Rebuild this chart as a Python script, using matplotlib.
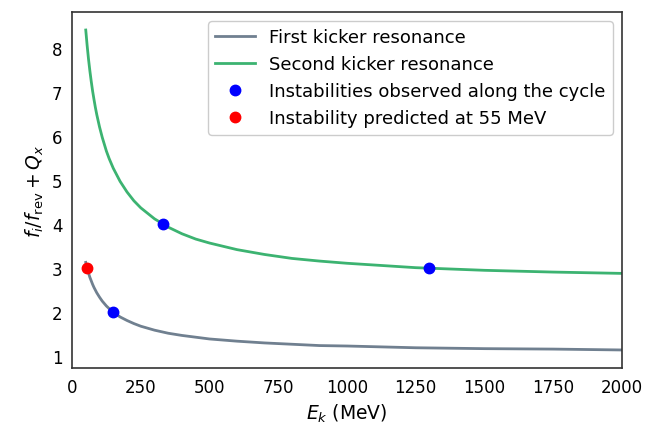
import matplotlib.pyplot as plt

# kinetic energy (MeV) sampled along the curves
ek = [50, 55, 60, 65, 70, 75, 80, 85, 90, 100, 110, 125, 135, 150, 175, 200,
      225, 250, 300, 350, 400, 450, 500, 600, 700, 800, 900, 1000, 1250, 1500,
      1750, 2000]

# first / second kicker resonance
first_res = [3.13, 3.00, 2.89, 2.79, 2.71, 2.63, 2.56, 2.50, 2.44, 2.34, 2.25,
             2.14, 2.08, 2.00, 1.89, 1.81, 1.74, 1.68, 1.59, 1.52, 1.47, 1.43,
             1.39, 1.34, 1.30, 1.27, 1.24, 1.23, 1.19, 1.17, 1.16, 1.14]
second_res = [8.41, 8.06, 7.75, 7.48, 7.24, 7.02, 6.83, 6.65, 6.49, 6.21, 5.97,
              5.66, 5.49, 5.27, 4.97, 4.73, 4.53, 4.37, 4.12, 3.93, 3.78, 3.66,
              3.57, 3.42, 3.31, 3.22, 3.16, 3.11, 3.01, 2.95, 2.91, 2.88]

# observed instabilities
obs_ek = [150, 330, 1300]
obs_q = [2, 4, 3]

# predicted instability
pred_ek = [55]
pred_q = [3]

fig = plt.figure(figsize=(6.57, 4.27), dpi=100)
ax = fig.add_axes([0.1096, 0.1358, 0.8371, 0.8338])

ax.plot(ek, first_res, color="slategray", linewidth=2, label="First kicker resonance")
ax.plot(ek, second_res, color="mediumseagreen", linewidth=2, label="Second kicker resonance")
ax.plot(obs_ek, obs_q, "o", color="blue", markersize=7.5,
        label="Instabilities observed along the cycle")
ax.plot(pred_ek, pred_q, "o", color="red", markersize=7.5,
        label="Instability predicted at 55 MeV")

ax.set_xlim(0, 2000)
ax.set_ylim(0.73, 8.82)
ax.set_xticks(range(0, 2001, 250))
ax.set_yticks(range(1, 9))
ax.tick_params(length=0, labelsize=12, pad=7)

for s in ax.spines.values():
    s.set_color("#333333")
    s.set_linewidth(1.2)

ax.set_xlabel("$E_k$ (MeV)", fontsize=13.5)
ax.set_ylabel(r"$f_i/f_{\rm rev} + Q_x$", fontsize=13.5)

ax.legend(loc="upper right", fontsize=13, framealpha=1, edgecolor="#cccccc",
          handlelength=2.2, borderaxespad=0.5)

fig.savefig("out.png", dpi=100)
